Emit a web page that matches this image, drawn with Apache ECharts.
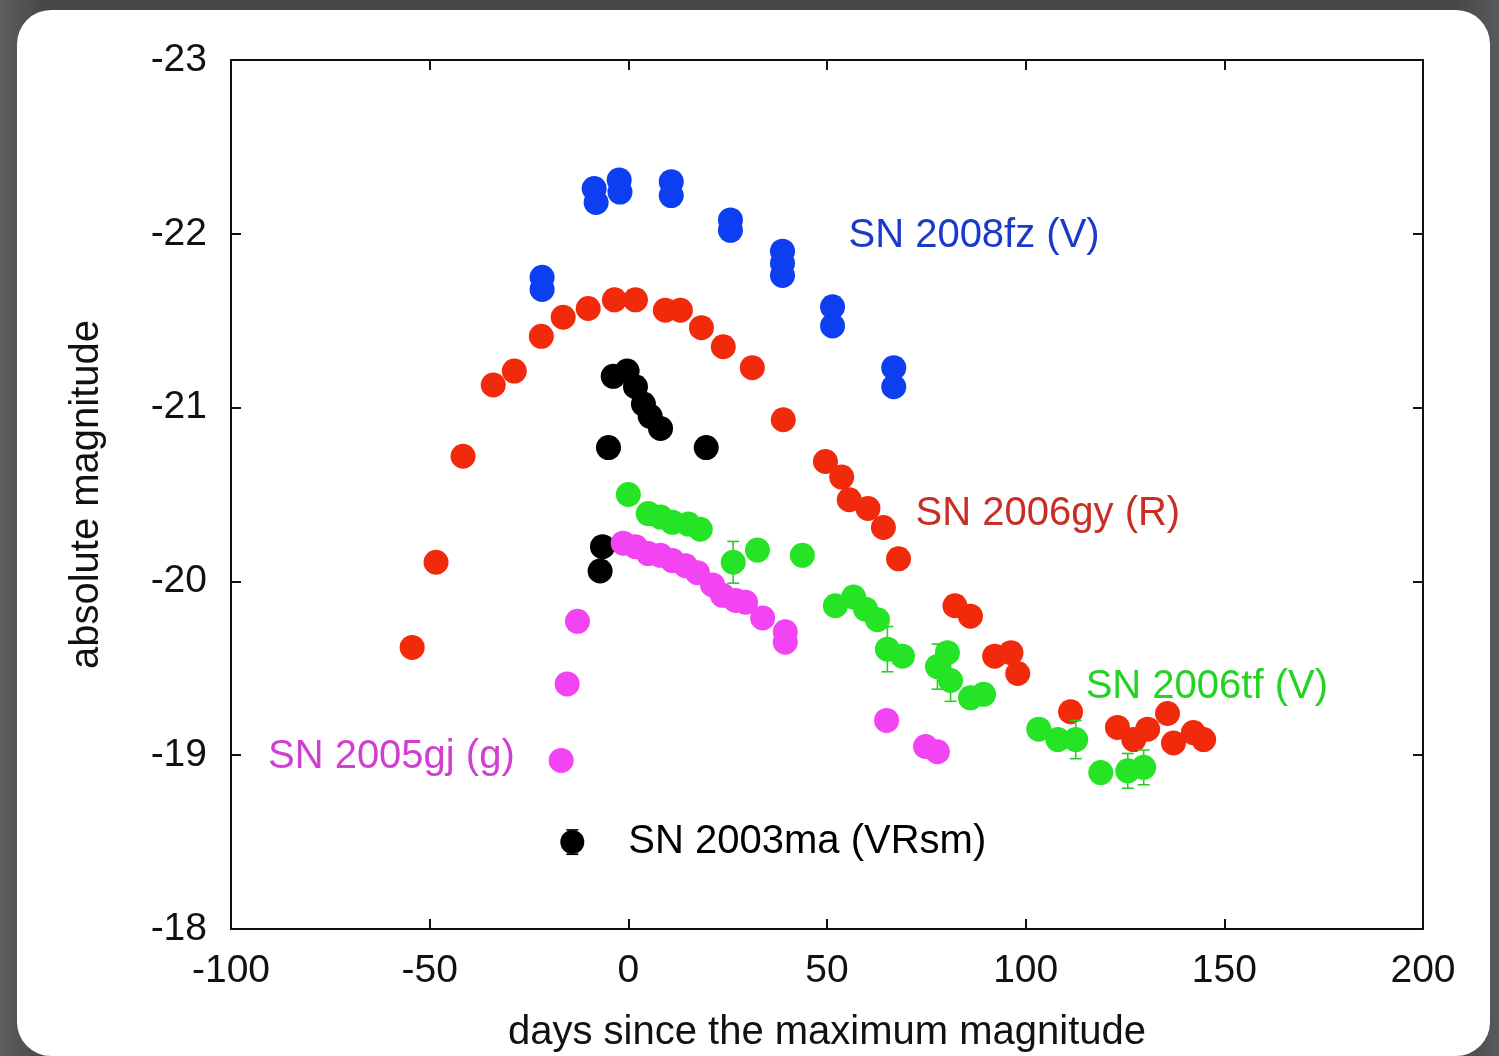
<!DOCTYPE html>
<html><head><meta charset="utf-8">
<script src="https://cdn.jsdelivr.net/npm/echarts@6/dist/echarts.min.js"></script>
<style>
html,body{margin:0;padding:0;width:1499px;height:1056px;overflow:hidden;background:linear-gradient(90deg,#5e5e5e 0%,#474747 3%,#474747 97%,#5a5a5a 100%);}
#card{position:absolute;left:17px;top:10px;width:1473px;height:1046px;background:#fff;border-radius:34px;}
#chart{position:absolute;left:0;top:0;width:1499px;height:1056px;}
</style></head><body><div id="card"></div><div id="chart"></div>
<script>
// ---- data (days since max, absolute magnitude) ----
const sn2008fz = [[-21.7,-21.75],[-21.7,-21.68],[-8.6,-22.26],[-8.1,-22.18],[-2.3,-22.31],[-2.1,-22.24],
  [10.8,-22.30],[10.8,-22.22],[25.7,-22.08],[25.7,-22.02],[38.8,-21.90],[38.8,-21.83],[38.8,-21.76],
  [51.4,-21.58],[51.4,-21.47],[66.8,-21.23],[66.8,-21.12]];
const sn2006gy = [[-54.4,-19.62],[-48.4,-20.11],[-41.6,-20.72],[-34.0,-21.13],[-28.7,-21.21],[-21.9,-21.41],
  [-16.4,-21.52],[-10.1,-21.57],[-3.5,-21.62],[1.8,-21.62],[9.3,-21.56],[13.1,-21.56],[18.4,-21.46],
  [23.9,-21.35],[31.2,-21.23],[39.0,-20.93],[49.6,-20.69],[53.7,-20.60],[55.6,-20.47],[60.3,-20.42],
  [64.2,-20.31],[68.0,-20.13],[82.2,-19.86],[86.1,-19.80],[92.2,-19.57],[96.3,-19.59],[98.0,-19.47],
  [111.3,-19.25],[123.1,-19.16],[127.2,-19.09],[130.7,-19.15],[135.7,-19.24],[137.2,-19.07],
  [142.2,-19.13],[144.8,-19.09]];
const sn2006tf = [[0.0,-20.50],[5.0,-20.39],[8.1,-20.37],[11.1,-20.34],[15.1,-20.33],[18.1,-20.30],
  [26.4,-20.11],[32.5,-20.18],[43.8,-20.15],[52.1,-19.86],[56.7,-19.91],[59.7,-19.84],[62.7,-19.78],
  [65.2,-19.61],[69.0,-19.57],[77.8,-19.51],[80.3,-19.59],[81.1,-19.43],[86.1,-19.33],[89.4,-19.35],
  [103.3,-19.15],[108.1,-19.09],[112.6,-19.09],[118.9,-18.90],[125.7,-18.91],[129.7,-18.93]];
const sn2006tfErr = [[26.4,-20.11,0.12],[65.2,-19.61,0.13],[77.8,-19.51,0.13],[81.1,-19.43,0.12],
  [112.6,-19.09,0.11],[125.7,-18.91,0.10],[129.7,-18.93,0.10]];
const sn2005gj = [[-16.9,-18.97],[-15.4,-19.41],[-12.8,-19.77],[-1.3,-20.22],[1.8,-20.20],[5.0,-20.16],
  [8.1,-20.15],[11.1,-20.12],[14.4,-20.09],[17.4,-20.05],[21.2,-19.98],[23.7,-19.92],[27.0,-19.89],
  [29.5,-19.88],[33.8,-19.79],[39.5,-19.71],[39.5,-19.65],[65.0,-19.20],[74.8,-19.05],[77.8,-19.02]];
const sn2003ma = [[-3.8,-21.18],[-0.3,-21.21],[1.8,-21.12],[3.8,-21.02],[5.5,-20.95],[8.1,-20.88],
  [-5.0,-20.77],[19.6,-20.77],[-6.5,-20.20],[-7.1,-20.06]];
const legendMarker = [[-14.1,-18.50,0.07]];
const textLabels = [
  [55.4,-21.99,'SN 2008fz (V)','#1a3acb'],
  [72.3,-20.39,'SN 2006gy (R)','#c92e25'],
  [115.1,-19.39,'SN 2006tf (V)','#22d322'],
  [-90.7,-18.99,'SN 2005gj (g)','#d13fd1'],
  [0.0,-18.50,'SN 2003ma (VRsm)','#000000']
];
const xTicks = {min:-100,max:200,interval:50};
const yTicks = {min:-23,max:-18,interval:1};

const FONT = '"Liberation Sans", Arial, sans-serif';
const chart = echarts.init(document.getElementById('chart'), null, {renderer:'canvas'});

function errRender(color){
  return function(params, api){
    const x = api.value(0), y = api.value(1), e = api.value(2);
    const p1 = api.coord([x, y - e]), p2 = api.coord([x, y + e]);
    const cw = 6;
    const st = {stroke: color, lineWidth: 1.6};
    return {type:'group', children:[
      {type:'line', shape:{x1:p1[0],y1:p1[1],x2:p2[0],y2:p2[1]}, style:st},
      {type:'line', shape:{x1:p1[0]-cw,y1:p1[1],x2:p1[0]+cw,y2:p1[1]}, style:st},
      {type:'line', shape:{x1:p2[0]-cw,y1:p2[1],x2:p2[0]+cw,y2:p2[1]}, style:st}
    ]};
  };
}

function axisCommon(){
  return {
    axisLine:{show:true,onZero:false,lineStyle:{color:'#111',width:2}},
    axisTick:{show:true,inside:true,length:10,lineStyle:{color:'#111',width:2}},
    splitLine:{show:false}
  };
}

const option = {
  animation:false,
  backgroundColor:'transparent',
  grid:{left:231,top:60,right:76,bottom:127,containLabel:false,outerBoundsMode:'none'},
  xAxis:[
    Object.assign({type:'value',position:'bottom',min:xTicks.min,max:xTicks.max,interval:xTicks.interval,
      name:'days since the maximum magnitude',nameLocation:'middle',nameGap:84,
      nameTextStyle:{fontFamily:FONT,fontSize:40,color:'#111'},
      axisLabel:{fontFamily:FONT,fontSize:39,color:'#111',margin:23}}, axisCommon()),
    Object.assign({type:'value',position:'top',min:xTicks.min,max:xTicks.max,interval:xTicks.interval,
      axisLabel:{show:false}}, axisCommon())
  ],
  yAxis:[
    Object.assign({type:'value',position:'left',inverse:true,min:yTicks.min,max:yTicks.max,interval:yTicks.interval,
      name:'absolute magnitude',nameLocation:'middle',nameGap:124,
      nameTextStyle:{fontFamily:FONT,fontSize:40,color:'#111'},
      axisLabel:{fontFamily:FONT,fontSize:39,color:'#111',margin:24,padding:[6,0,0,0]}}, axisCommon()),
    Object.assign({type:'value',position:'right',inverse:true,min:yTicks.min,max:yTicks.max,interval:yTicks.interval,
      axisLabel:{show:false}}, axisCommon())
  ],
  series:[
    {type:'scatter',name:'SN 2006gy',data:sn2006gy,symbolSize:25,itemStyle:{color:'#f22a0c',opacity:1},z:2},
    {type:'scatter',name:'SN 2006tf',data:sn2006tf,symbolSize:25,itemStyle:{color:'#25e425',opacity:1},z:3},
    {type:'custom',name:'SN 2006tf err',data:sn2006tfErr,renderItem:errRender('#25d025'),z:3},
    {type:'scatter',name:'SN 2003ma',data:sn2003ma,symbolSize:25,itemStyle:{color:'#000',opacity:1},z:4},
    {type:'scatter',name:'SN 2005gj',data:sn2005gj,symbolSize:25,itemStyle:{color:'#f244f2',opacity:1},z:5},
    {type:'scatter',name:'SN 2008fz',data:sn2008fz,symbolSize:25,itemStyle:{color:'#0d3ef2',opacity:1},z:6},
    {type:'scatter',name:'legend',data:legendMarker,symbolSize:24,itemStyle:{color:'#000',opacity:1},z:6},
    {type:'custom',name:'legend err',data:legendMarker,renderItem:errRender('#000'),z:6},
    {type:'scatter',name:'labels',symbolSize:0,z:10,silent:true,itemStyle:{opacity:1},
      data:textLabels.map(t=>({value:[t[0],t[1]],label:{show:true,position:'right',distance:0,formatter:t[2],
        color:t[3],opacity:1,fontFamily:FONT,fontSize:40,align:'left',verticalAlign:'middle'}}))}
  ]
};
chart.setOption(option);
</script></body></html>
